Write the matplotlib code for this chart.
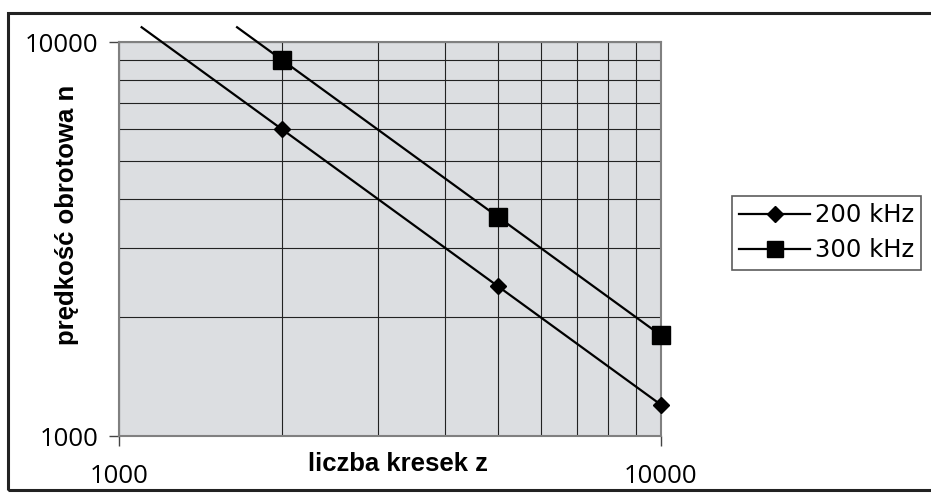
import numpy as np
import matplotlib.pyplot as plt
from matplotlib.patches import Rectangle

# liczba kresek enkodera i prędkość obrotowa [obr/min]
liczba_kresek = [2000, 5000, 10000]
predkosc_200khz = [6000, 2400, 1200]
predkosc_300khz = [9000, 3600, 1800]
etykiety = ["200 kHz", "300 kHz"]
znaczniki = ["D", "s"]
rozmiary = [8.5, 12.5]

plt.rcParams["font.family"] = "Open Sans"

fig = plt.figure(figsize=(9.31, 4.93), dpi=100)
ax = fig.add_axes([119 / 931, 57 / 493, 542 / 931, 394 / 493])

ax.set_xscale("log")
ax.set_yscale("log")
ax.set_xlim(1000, 10000)
ax.set_ylim(1000, 10000)
ax.set_facecolor("#dcdee1")

# linie trendu (potęgowe) wyciągnięte do górnej krawędzi
n_gora = 10900
for seria, zn, ms in zip([predkosc_200khz, predkosc_300khz], znaczniki, rozmiary):
    a, b = np.polyfit(np.log10(liczba_kresek), np.log10(seria), 1)
    z_start = 10 ** ((np.log10(n_gora) - b) / a)
    z_trend = np.array([z_start, liczba_kresek[-1]])
    ax.plot(z_trend, 10 ** (a * np.log10(z_trend) + b), color="black", lw=1.6,
            clip_on=False, zorder=3)
    ax.plot(liczba_kresek, seria, linestyle="none", marker=zn, ms=ms, color="black",
            clip_on=False, zorder=4)

# siatka na wszystkich podziałkach
ax.grid(True, which="both", color="#222222", lw=0.8)
ax.set_axisbelow(True)
for s in ax.spines.values():
    s.set_color("#808080")
    s.set_linewidth(1.5)

ax.set_xticks([1000, 10000])
ax.set_yticks([1000, 10000])
ax.set_xticklabels(["1000", "10000"])
ax.set_yticklabels(["1000", "10000"])
ax.tick_params(which="minor", length=0)
ax.tick_params(which="major", length=7, width=1, color="#444444", labelsize=18.5)
ax.tick_params(axis="x", pad=13)
ax.tick_params(axis="y", pad=8)

fig.text(398 / 931, 1 - 464 / 493, "liczba kresek z", fontsize=18.5, fontweight="bold",
         family="Liberation Sans", ha="center", va="center")
fig.text(67 / 931, 1 - 215 / 493, "prędkość obrotowa n", fontsize=18.5, fontweight="bold",
         family="Liberation Sans", ha="center", va="center", rotation=90)

# legenda
uchwyty = [plt.Line2D([], [], color="black", lw=1.6, marker=zn, ms=ms)
           for zn, ms in zip(znaczniki, [8.5, 12])]
leg = fig.legend(uchwyty, etykiety, loc="upper left", bbox_to_anchor=(732 / 931, 1 - 196 / 493),
                 frameon=True, fancybox=False, edgecolor="#333333",
                 prop={"family": "DejaVu Sans", "size": 17.5},
                 handlelength=2.9, borderpad=0.3, labelspacing=0.45, handletextpad=0.2,
                 borderaxespad=0)
leg.get_frame().set_linewidth(1.2)

# ramka wokół wykresu
fig.patches.append(Rectangle((8 / 931, 3 / 493), 940 / 931, 477 / 493, transform=fig.transFigure,
                             fill=False, edgecolor="#222222", lw=2.2))

fig.savefig("out.png", dpi=100)
